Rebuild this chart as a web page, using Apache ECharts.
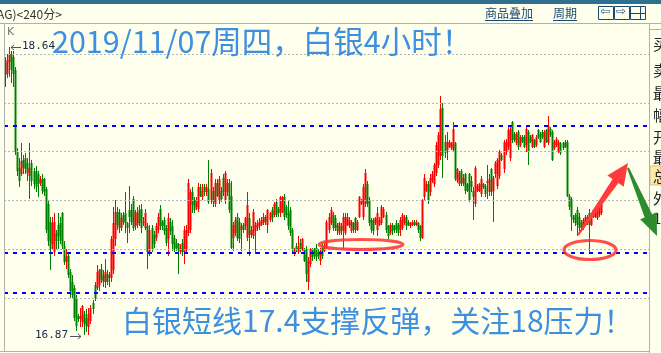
<!DOCTYPE html>
<html><head><meta charset="utf-8">
<script src="https://cdn.jsdelivr.net/npm/echarts@6/dist/echarts.min.js"></script>
<style>html,body{margin:0;padding:0;background:#FFFFEE;}#c{width:661px;height:353px;}</style>
</head><body><div id="c"></div>
<script>
const openP=[18.55,18.48,18.55,18.60,18.58,18.50,18.00,17.90,17.86,17.95,17.96,17.93,17.85,17.93,17.88,17.88,17.86,17.81,17.83,17.83,
17.77,17.68,17.57,17.43,17.38,17.50,17.55,17.56,17.62,17.42,17.32,17.36,17.26,17.20,17.16,17.10,16.99,16.97,16.95,17.00,
16.98,16.92,16.96,17.07,17.18,17.16,17.18,17.28,17.24,17.20,17.25,17.22,17.22,17.27,17.46,17.63,17.63,17.53,17.61,17.62,
17.56,17.64,17.64,17.71,17.54,17.55,17.64,17.65,17.56,17.53,17.54,17.38,17.53,17.49,17.47,17.52,17.65,17.57,17.58,17.53,
17.46,17.57,17.54,17.47,17.44,17.43,17.38,17.44,17.38,17.40,17.50,17.52,17.75,17.70,17.66,17.65,17.78,17.72,17.78,17.75,
17.77,17.70,17.76,17.68,17.81,17.70,17.76,17.84,17.70,17.75,17.81,17.73,17.47,17.50,17.60,17.57,17.52,17.55,17.54,17.47,
17.59,17.49,17.48,17.51,17.53,17.54,17.55,17.56,17.60,17.55,17.58,17.64,17.61,17.69,17.65,17.62,17.63,17.72,17.66,17.62,
17.64,17.52,17.37,17.42,17.38,17.44,17.40,17.40,17.40,17.20,17.31,17.40,17.40,17.41,17.38,17.33,17.41,17.39,17.41,17.52,
17.56,17.61,17.59,17.55,17.50,17.54,17.51,17.50,17.55,17.54,17.51,17.56,17.59,17.52,17.60,17.68,17.60,17.68,17.80,17.70,
17.58,17.58,17.56,17.52,17.55,17.56,17.60,17.61,17.54,17.50,17.55,17.54,17.56,17.55,17.52,17.53,17.56,17.60,17.57,17.54,
17.55,17.57,17.55,17.56,17.54,17.47,17.72,17.76,17.80,17.75,17.82,17.80,17.87,17.92,17.97,18.27,18.06,18.01,18.03,18.02,
18.01,18.05,17.82,17.80,17.88,17.80,17.86,17.80,17.86,17.82,17.76,17.68,17.76,17.76,17.74,17.80,17.79,17.81,17.75,17.89,
17.76,17.86,17.79,17.85,17.98,17.89,18.00,18.03,17.96,18.18,18.11,18.05,18.12,18.04,18.09,18.09,18.04,18.12,18.09,18.03,
18.07,18.04,18.13,18.11,18.12,18.03,18.13,18.05,18.14,18.12,18.02,18.04,18.00,18.05,18.05,18.06,18.06,17.73,17.71,17.60,
17.61,17.64,17.60,17.57,17.53,17.55,17.56,17.62,17.55,17.60,17.60,17.59,17.61,17.62];
const closeP=[18.47,18.56,18.60,18.50,18.48,18.00,17.88,17.82,17.94,17.90,17.89,17.87,17.90,17.82,17.80,17.78,17.80,17.83,17.76,17.75,
17.52,17.45,17.40,17.56,17.57,17.45,17.48,17.45,17.42,17.32,17.36,17.24,17.14,17.12,16.98,16.93,16.97,16.99,17.05,16.94,
16.93,17.00,17.04,17.03,17.10,17.26,17.27,17.21,17.20,17.26,17.20,17.24,17.46,17.56,17.63,17.55,17.53,17.59,17.57,17.56,
17.53,17.60,17.57,17.53,17.63,17.62,17.56,17.53,17.57,17.62,17.38,17.52,17.40,17.43,17.54,17.60,17.54,17.54,17.51,17.44,
17.59,17.51,17.43,17.40,17.41,17.40,17.41,17.38,17.52,17.52,17.81,17.75,17.67,17.64,17.70,17.78,17.73,17.76,17.75,17.78,
17.69,17.87,17.69,17.81,17.73,17.83,17.71,17.75,17.87,17.81,17.64,17.41,17.55,17.58,17.47,17.46,17.54,17.52,17.59,17.67,
17.49,17.52,17.63,17.55,17.56,17.57,17.58,17.60,17.57,17.64,17.62,17.59,17.68,17.61,17.62,17.72,17.72,17.60,17.61,17.54,
17.50,17.40,17.40,17.40,17.41,17.40,17.46,17.33,17.25,17.33,17.40,17.35,17.36,17.35,17.36,17.39,17.36,17.42,17.57,17.60,
17.64,17.53,17.53,17.51,17.56,17.51,17.60,17.60,17.60,17.58,17.57,17.52,17.52,17.57,17.72,17.70,17.78,17.87,17.68,17.56,
17.52,17.51,17.59,17.62,17.58,17.66,17.65,17.52,17.48,17.55,17.51,17.52,17.52,17.50,17.58,17.61,17.60,17.54,17.55,17.56,
17.57,17.55,17.57,17.52,17.47,17.70,17.84,17.80,17.70,17.84,17.86,17.92,18.04,18.10,18.26,17.97,17.99,18.06,18.06,18.05,
18.14,17.83,17.89,17.87,17.81,17.84,17.76,17.76,17.70,17.78,17.72,17.90,17.79,17.80,17.83,17.78,17.74,17.82,17.83,17.75,
17.84,17.93,17.95,18.00,17.95,18.06,18.06,18.13,18.14,18.07,18.07,18.11,18.03,18.09,18.06,18.03,18.14,18.00,18.06,18.10,
18.03,18.09,18.09,18.06,18.09,18.12,18.06,18.16,18.10,17.95,18.06,18.08,18.06,17.99,18.02,18.03,17.73,17.66,17.60,17.58,
17.56,17.55,17.53,17.53,17.58,17.60,17.60,17.55,17.60,17.64,17.63,17.64,17.66,17.68];
const lowP=[18.40,18.45,18.46,18.42,18.40,17.98,17.85,17.78,17.85,17.86,17.86,17.82,17.71,17.79,17.77,17.75,17.72,17.79,17.74,17.73,
17.50,17.42,17.27,17.40,17.36,17.40,17.40,17.43,17.40,17.30,17.28,17.22,17.10,17.10,16.96,16.90,16.95,16.92,16.92,16.87,
16.89,16.87,16.94,17.00,17.08,17.15,17.14,17.19,17.17,17.16,17.18,17.17,17.20,17.25,17.42,17.52,17.50,17.51,17.55,17.50,
17.44,17.50,17.55,17.51,17.52,17.53,17.54,17.50,17.54,17.52,17.28,17.36,17.38,17.41,17.45,17.50,17.52,17.52,17.49,17.42,
17.36,17.49,17.39,17.38,17.39,17.25,17.37,17.36,17.31,17.38,17.48,17.50,17.62,17.62,17.64,17.63,17.72,17.70,17.73,17.73,
17.68,17.68,17.66,17.66,17.72,17.68,17.69,17.73,17.68,17.73,17.62,17.40,17.39,17.48,17.45,17.44,17.39,17.50,17.52,17.45,
17.36,17.47,17.46,17.37,17.51,17.52,17.54,17.55,17.55,17.50,17.57,17.57,17.60,17.60,17.60,17.60,17.62,17.58,17.59,17.52,
17.48,17.37,17.36,17.38,17.37,17.38,17.39,17.32,17.20,17.15,17.29,17.33,17.34,17.33,17.34,17.30,17.34,17.38,17.40,17.50,
17.55,17.51,17.51,17.49,17.49,17.49,17.40,17.49,17.54,17.53,17.50,17.50,17.50,17.51,17.59,17.67,17.58,17.66,17.66,17.54,
17.50,17.49,17.55,17.48,17.54,17.55,17.59,17.50,17.46,17.49,17.49,17.50,17.50,17.48,17.48,17.52,17.55,17.52,17.54,17.53,
17.54,17.54,17.54,17.50,17.45,17.46,17.70,17.75,17.68,17.73,17.81,17.78,17.85,17.90,17.95,17.84,17.96,17.95,18.02,18.01,
18.00,17.82,17.81,17.79,17.79,17.79,17.74,17.75,17.69,17.75,17.58,17.66,17.75,17.75,17.72,17.77,17.72,17.71,17.73,17.73,
17.57,17.84,17.77,17.83,17.94,17.87,17.98,18.01,17.94,18.05,18.06,18.04,18.01,18.03,18.05,18.02,18.00,17.92,18.05,18.02,
18.02,18.03,18.08,18.05,18.08,18.02,18.05,18.04,18.09,17.94,18.01,18.03,17.99,17.98,18.01,18.02,17.72,17.64,17.51,17.56,
17.54,17.48,17.51,17.51,17.52,17.54,17.55,17.38,17.54,17.59,17.59,17.58,17.60,17.61];
const highP=[18.58,18.60,18.64,18.62,18.62,18.52,18.02,17.96,18.05,17.98,17.99,17.96,18.05,17.95,17.90,17.91,17.88,17.85,17.86,17.84,
17.78,17.70,17.60,17.60,17.62,17.52,17.62,17.60,17.63,17.45,17.40,17.38,17.28,17.24,17.18,17.12,17.00,17.04,17.06,17.02,
17.03,17.04,17.06,17.09,17.20,17.30,17.28,17.31,17.27,17.34,17.27,17.26,17.48,17.66,17.70,17.66,17.65,17.62,17.63,17.75,
17.57,17.79,17.68,17.73,17.64,17.66,17.67,17.68,17.60,17.65,17.56,17.55,17.55,17.51,17.56,17.62,17.67,17.58,17.60,17.55,
17.62,17.59,17.58,17.49,17.46,17.44,17.43,17.46,17.54,17.55,17.83,17.77,17.78,17.72,17.72,17.81,17.80,17.80,17.80,17.80,
17.95,17.89,17.78,17.83,17.83,17.85,17.78,17.86,17.88,17.83,17.83,17.82,17.57,17.60,17.62,17.59,17.56,17.56,17.60,17.75,
17.62,17.54,17.65,17.57,17.58,17.59,17.60,17.62,17.61,17.65,17.63,17.66,17.69,17.71,17.66,17.73,17.73,17.74,17.67,17.70,
17.66,17.53,17.41,17.44,17.48,17.46,17.47,17.41,17.42,17.35,17.41,17.41,17.41,17.43,17.40,17.41,17.43,17.44,17.58,17.62,
17.66,17.63,17.61,17.56,17.57,17.56,17.62,17.62,17.62,17.60,17.58,17.57,17.60,17.58,17.73,17.71,17.80,17.89,17.82,17.72,
17.59,17.59,17.60,17.66,17.60,17.67,17.66,17.63,17.55,17.56,17.56,17.55,17.58,17.56,17.60,17.62,17.61,17.61,17.58,17.57,
17.58,17.58,17.58,17.57,17.55,17.71,17.86,17.82,17.82,17.86,17.88,17.93,18.06,18.12,18.34,18.30,18.10,18.12,18.07,18.06,
18.18,18.06,17.90,17.88,17.89,17.86,17.87,17.81,17.87,17.85,17.78,17.91,17.80,17.81,17.85,17.81,17.80,17.92,17.86,17.90,
17.85,17.94,17.96,18.01,17.99,18.07,18.08,18.16,18.16,18.19,18.12,18.12,18.13,18.10,18.10,18.10,18.16,18.13,18.10,18.11,
18.08,18.10,18.14,18.12,18.13,18.13,18.14,18.22,18.15,18.13,18.07,18.09,18.07,18.06,18.06,18.07,18.07,17.74,17.72,17.61,
17.62,17.66,17.62,17.58,17.59,17.61,17.61,17.65,17.61,17.65,17.64,17.66,17.68,17.70];
const gridLevels=[17.1,17.4,17.7,18.0,18.3,18.6];
const blueLevels=[18.16,17.38,17.13];
const totalSlots=317;
const categories=[];for(let i=0;i<totalSlots;i++)categories.push(String(i));
const kData=openP.map((o,i)=>[i,o,closeP[i],lowP[i],highP[i]]);

const chart=echarts.init(document.getElementById('c'),null,{renderer:'canvas'});
const markData=gridLevels.map(v=>({yAxis:v,lineStyle:{color:'#b4b4b4',type:[2,2],width:1}}))
 .concat(blueLevels.map(v=>({yAxis:v,lineStyle:{color:'#0000ff',type:[4,5],width:2}})));
const cjk='"Noto Sans CJK SC","Noto Sans",sans-serif';
function renderCandle(params,api){
  const i=api.value(0),o=api.value(1),c=api.value(2),l=api.value(3),h=api.value(4);
  const po=api.coord([i,o]),pc=api.coord([i,c]),pl=api.coord([i,l]),ph=api.coord([i,h]);
  const x=Math.round(po[0]);
  const up=c>=o;const col=up?'#ff0000':'#008000';
  const top=Math.round(Math.min(po[1],pc[1])),bot=Math.max(Math.round(Math.max(po[1],pc[1])),top+1);
  return {type:'group',children:[
    {type:'rect',shape:{x:x,y:Math.round(ph[1]),width:1,height:Math.max(1,Math.round(pl[1])-Math.round(ph[1]))},style:{fill:col}},
    {type:'rect',shape:{x:x-0.5,y:top,width:2,height:bot-top},style:{fill:col}}
  ]};
}
chart.setOption({
 animation:false,
 backgroundColor:'#FFFFEE',
 grid:{left:4,right:12,top:23,bottom:2},
 xAxis:{type:'category',data:categories,boundaryGap:true,show:false},
 yAxis:{type:'value',min:16.7742,max:18.7905,show:false,splitLine:{show:false}},
 series:[
  {type:'line',data:[],markLine:{silent:true,symbol:'none',label:{show:false},data:markData},z:2},
  {type:'custom',renderItem:renderCandle,data:kData,encode:{x:0,y:[1,2,3,4]},z:3}
 ],
 graphic:[
  {type:'rect',shape:{x:0,y:0,width:661,height:4},style:{fill:'#2f6f8f'},z:10},
  {type:'text',x:-3,y:8,style:{text:'AG)<240分>',font:'12px '+cjk,fill:'#333'},z:10},
  {type:'text',x:485,y:7,style:{text:'商品叠加',font:'12px '+cjk,fill:'#1a4a70'},z:10},
  {type:'line',shape:{x1:485,y1:20.5,x2:533,y2:20.5},style:{stroke:'#1a4a70',lineWidth:1},z:10},
  {type:'text',x:553,y:7,style:{text:'周期',font:'12px '+cjk,fill:'#1a4a70'},z:10},
  {type:'line',shape:{x1:553,y1:20.5,x2:577,y2:20.5},style:{stroke:'#1a4a70',lineWidth:1},z:10},
  {type:'rect',shape:{x:598.5,y:6.5,width:15,height:13},style:{fill:'none',stroke:'#1a4a70',lineWidth:1},z:10},
  {type:'rect',shape:{x:614.5,y:6.5,width:15,height:13},style:{fill:'none',stroke:'#1a4a70',lineWidth:1},z:10},
  {type:'rect',shape:{x:630.5,y:6.5,width:15,height:13},style:{fill:'none',stroke:'#1a4a70',lineWidth:1},z:10},
  {type:'text',x:600,y:6,style:{text:'⇦',font:'12px "DejaVu Sans"',fill:'#1a4a70'},z:10},
  {type:'text',x:616,y:6,style:{text:'⇨',font:'12px "DejaVu Sans"',fill:'#1a4a70'},z:10},
  {type:'line',shape:{x1:631,y1:13.5,x2:645,y2:13.5},style:{stroke:'#1a4a70',lineWidth:1},z:10},
  {type:'line',shape:{x1:640.5,y1:7,x2:640.5,y2:19},style:{stroke:'#1a4a70',lineWidth:1},z:10},
  {type:'line',shape:{x1:0,y1:23.5,x2:661,y2:23.5},style:{stroke:'#b0b0b0',lineWidth:1},z:10},
  {type:'line',shape:{x1:4.5,y1:23,x2:4.5,y2:351},style:{stroke:'#b0b0b0',lineWidth:1},z:10},
  {type:'line',shape:{x1:649.5,y1:23,x2:649.5,y2:353},style:{stroke:'#b0b0b0',lineWidth:1},z:10},
  {type:'line',shape:{x1:0,y1:351.5,x2:649,y2:351.5},style:{stroke:'#b0b0b0',lineWidth:1},z:10},
  {type:'line',shape:{x1:650,y1:29.5,x2:661,y2:29.5},style:{stroke:'#b0b0b0',lineWidth:1},z:10},
  {type:'rect',shape:{x:650,y:166,width:11,height:19},style:{fill:'#ffe9a8',stroke:'#d8c080',lineWidth:1},z:9},
  {type:'text',x:653,y:44,style:{text:'买',font:'15px '+cjk,fill:'#222',verticalAlign:'middle'},z:10},
  {type:'text',x:653,y:70,style:{text:'卖',font:'15px '+cjk,fill:'#222',verticalAlign:'middle'},z:10},
  {type:'text',x:653,y:93,style:{text:'最',font:'15px '+cjk,fill:'#222',verticalAlign:'middle'},z:10},
  {type:'text',x:653,y:115,style:{text:'幅',font:'15px '+cjk,fill:'#222',verticalAlign:'middle'},z:10},
  {type:'text',x:653,y:137,style:{text:'开',font:'15px '+cjk,fill:'#222',verticalAlign:'middle'},z:10},
  {type:'text',x:653,y:157,style:{text:'最',font:'15px '+cjk,fill:'#222',verticalAlign:'middle'},z:10},
  {type:'text',x:653,y:176,style:{text:'总',font:'15px '+cjk,fill:'#222',verticalAlign:'middle'},z:10},
  {type:'text',x:653,y:198,style:{text:'外',font:'15px '+cjk,fill:'#222',verticalAlign:'middle'},z:10},
  {type:'text',x:653,y:218,style:{text:'1',font:'15px '+cjk,fill:'#222',verticalAlign:'middle'},z:10},
  {type:'text',x:7,y:27,style:{text:'K',font:'11px "DejaVu Sans"',fill:'#777'},z:10},
  {type:'line',shape:{x1:11,y1:47.5,x2:21,y2:47.5},style:{stroke:'#555',lineWidth:1},z:10},
  {type:'line',shape:{x1:11,y1:47.5,x2:14,y2:45},style:{stroke:'#555',lineWidth:1},z:10},
  {type:'line',shape:{x1:11,y1:47.5,x2:14,y2:50},style:{stroke:'#555',lineWidth:1},z:10},
  {type:'text',x:22,y:41,style:{text:'18.64',font:'11px "DejaVu Sans Mono"',fill:'#142848'},z:10},
  {type:'text',x:35,y:330,style:{text:'16.87',font:'11px "DejaVu Sans Mono"',fill:'#142848'},z:10},
  {type:'line',shape:{x1:70,y1:336.5,x2:81,y2:336.5},style:{stroke:'#555',lineWidth:1},z:10},
  {type:'line',shape:{x1:81,y1:336.5,x2:78,y2:334},style:{stroke:'#555',lineWidth:1},z:10},
  {type:'line',shape:{x1:81,y1:336.5,x2:78,y2:339},style:{stroke:'#555',lineWidth:1},z:10},
  {type:'text',x:52,y:41,style:{text:'2019/11/07周四，白银4小时！',font:'30.5px '+cjk,fill:'#3d8fe0',verticalAlign:'middle'},z:12},
  {type:'text',x:122,y:321,style:{text:'白银短线17.4支撑反弹，关注18压力！',font:'30px '+cjk,fill:'#3d8fe0',verticalAlign:'middle'},z:12},
  {type:'ellipse',shape:{cx:361,cy:244.5,rx:42,ry:5},style:{fill:'none',stroke:'#ff3030',lineWidth:3,opacity:0.85},z:11},
  {type:'ellipse',shape:{cx:590,cy:250,rx:26,ry:9.5},style:{fill:'none',stroke:'#ff3030',lineWidth:3,opacity:0.85},z:11},
  {type:'polygon',shape:{points:[[578.8,235.6],[618.4,183.1],[623.7,186.8],[628,163],[607.3,175.4],[612.6,179.1],[577.2,234.4]]},style:{fill:'#ff3b3b'},z:11},
  {type:'polygon',shape:{points:[[628.9,167.6],[652.1,214.2],[656.7,212.3],[657,236],[640.1,219.3],[644.7,217.4],[627.1,168.4]]},style:{fill:'#2e8b2e'},z:13}
 ]
});
</script></body></html>
